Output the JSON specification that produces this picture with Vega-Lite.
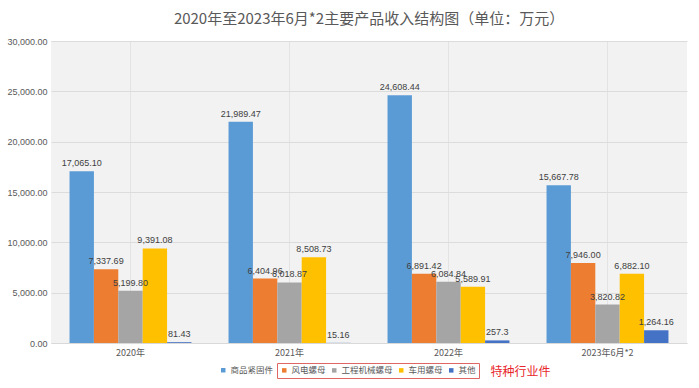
{
  "$schema": "https://vega.github.io/schema/vega-lite/v6.json",
  "width": 636,
  "height": 302,
  "autosize": {"type": "none"},
  "padding": {"left": 51, "top": 41, "right": 12, "bottom": 45},
  "background": "white",
  "title": {
    "text": "2020年至2023年6月*2主要产品收入结构图（单位：万元）",
    "font": "Noto Sans CJK SC",
    "fontSize": 15,
    "fontWeight": "normal",
    "color": "#595959",
    "anchor": "middle",
    "offset": 10
  },
  "config": {
    "font": "Liberation Sans",
    "view": {"fill": "#f2f2f2", "stroke": null},
    "axis": {"labelFont": "Noto Sans CJK SC"}
  },
  "data": {
    "values": [
      {"period": "2020年", "series": "商品紧固件", "value": 17065.10, "label": "17,065.10"},
      {"period": "2020年", "series": "风电螺母", "value": 7337.69, "label": "7,337.69"},
      {"period": "2020年", "series": "工程机械螺母", "value": 5199.80, "label": "5,199.80"},
      {"period": "2020年", "series": "车用螺母", "value": 9391.08, "label": "9,391.08"},
      {"period": "2020年", "series": "其他", "value": 81.43, "label": "81.43"},
      {"period": "2021年", "series": "商品紧固件", "value": 21989.47, "label": "21,989.47"},
      {"period": "2021年", "series": "风电螺母", "value": 6404.96, "label": "6,404.96"},
      {"period": "2021年", "series": "工程机械螺母", "value": 6018.87, "label": "6,018.87"},
      {"period": "2021年", "series": "车用螺母", "value": 8508.73, "label": "8,508.73"},
      {"period": "2021年", "series": "其他", "value": 15.16, "label": "15.16"},
      {"period": "2022年", "series": "商品紧固件", "value": 24608.44, "label": "24,608.44"},
      {"period": "2022年", "series": "风电螺母", "value": 6891.42, "label": "6,891.42"},
      {"period": "2022年", "series": "工程机械螺母", "value": 6084.84, "label": "6,084.84"},
      {"period": "2022年", "series": "车用螺母", "value": 5589.91, "label": "5,589.91"},
      {"period": "2022年", "series": "其他", "value": 257.3, "label": "257.3"},
      {"period": "2023年6月*2", "series": "商品紧固件", "value": 15667.78, "label": "15,667.78"},
      {"period": "2023年6月*2", "series": "风电螺母", "value": 7946.00, "label": "7,946.00"},
      {"period": "2023年6月*2", "series": "工程机械螺母", "value": 3820.82, "label": "3,820.82"},
      {"period": "2023年6月*2", "series": "车用螺母", "value": 6882.10, "label": "6,882.10"},
      {"period": "2023年6月*2", "series": "其他", "value": 1264.16, "label": "1,264.16"}
    ]
  },
  "encoding": {
    "x": {
      "field": "period",
      "type": "nominal",
      "sort": ["2020年", "2021年", "2022年", "2023年6月*2"],
      "scale": {"paddingInner": 0, "paddingOuter": 0},
      "axis": {
        "title": "特种行业件",
        "titleFont": "Noto Sans CJK SC",
        "titleFontSize": 12,
        "titleFontWeight": "normal",
        "titleColor": "#E8262A",
        "titleAlign": "left",
        "titleBaseline": "middle",
        "titleAnchor": "start",
        "titleX": 439,
        "titleY": 28,
        "labelAngle": 0,
        "labelFontSize": 9,
        "labelColor": "#595959",
        "labelPadding": 5,
        "ticks": false,
        "domainColor": "#d9d9d9",
        "grid": true,
        "gridColor": "#e3e3e3",
        "bandPosition": 0.5
      }
    },
    "xOffset": {
      "field": "series",
      "type": "nominal",
      "sort": ["商品紧固件", "风电螺母", "工程机械螺母", "车用螺母", "其他"],
      "scale": {"domain": ["商品紧固件", "风电螺母", "工程机械螺母", "车用螺母", "其他"], "paddingInner": 0, "paddingOuter": 0.76}
    },
    "y": {
      "field": "value",
      "type": "quantitative",
      "scale": {"domain": [0, 30000], "nice": false},
      "axis": {
        "title": null,
        "values": [0, 5000, 10000, 15000, 20000, 25000, 30000],
        "format": ",.2f",
        "labelFont": "Liberation Sans",
        "labelFontSize": 9,
        "labelColor": "#595959",
        "labelPadding": 4,
        "ticks": false,
        "domain": false,
        "gridColor": "#dcdcdc"
      }
    }
  },
  "layer": [
    {
      "transform": [{"filter": "datum.series === '商品紧固件'"}],
      "mark": {"type": "bar"},
      "encoding": {
        "color": {
          "field": "series",
          "type": "nominal",
          "scale": {"domain": ["商品紧固件"], "range": ["#5B9BD5"]},
          "legend": {
            "title": null,
            "orient": "none",
            "legendX": 165,
            "legendY": 322,
            "direction": "horizontal",
            "symbolType": "square",
            "symbolSize": 20,
            "labelOffset": 3,
            "labelFont": "Noto Sans CJK SC",
            "labelFontSize": 8.5,
            "labelColor": "#595959",
            "padding": 3
          }
        }
      }
    },
    {
      "transform": [{"filter": "datum.series !== '商品紧固件'"}],
      "mark": {"type": "bar"},
      "encoding": {
        "color": {
          "field": "series",
          "type": "nominal",
          "scale": {"domain": ["风电螺母", "工程机械螺母", "车用螺母", "其他"], "range": ["#ED7D31", "#A5A5A5", "#FFC000", "#4472C4"]},
          "legend": {
            "title": null,
            "orient": "none",
            "legendX": 226,
            "legendY": 322,
            "direction": "horizontal",
            "symbolType": "square",
            "symbolSize": 20,
            "labelOffset": 3,
            "labelFont": "Noto Sans CJK SC",
            "labelFontSize": 8.5,
            "labelColor": "#595959",
            "columnPadding": 4,
            "strokeColor": "#E06666",
            "padding": 3
          }
        }
      }
    },
    {
      "mark": {"type": "text", "baseline": "bottom", "dy": -3, "font": "Liberation Sans", "fontSize": 9, "color": "#404040"},
      "encoding": {"text": {"field": "label"}}
    }
  ],
  "resolve": {"scale": {"color": "independent"}}
}
